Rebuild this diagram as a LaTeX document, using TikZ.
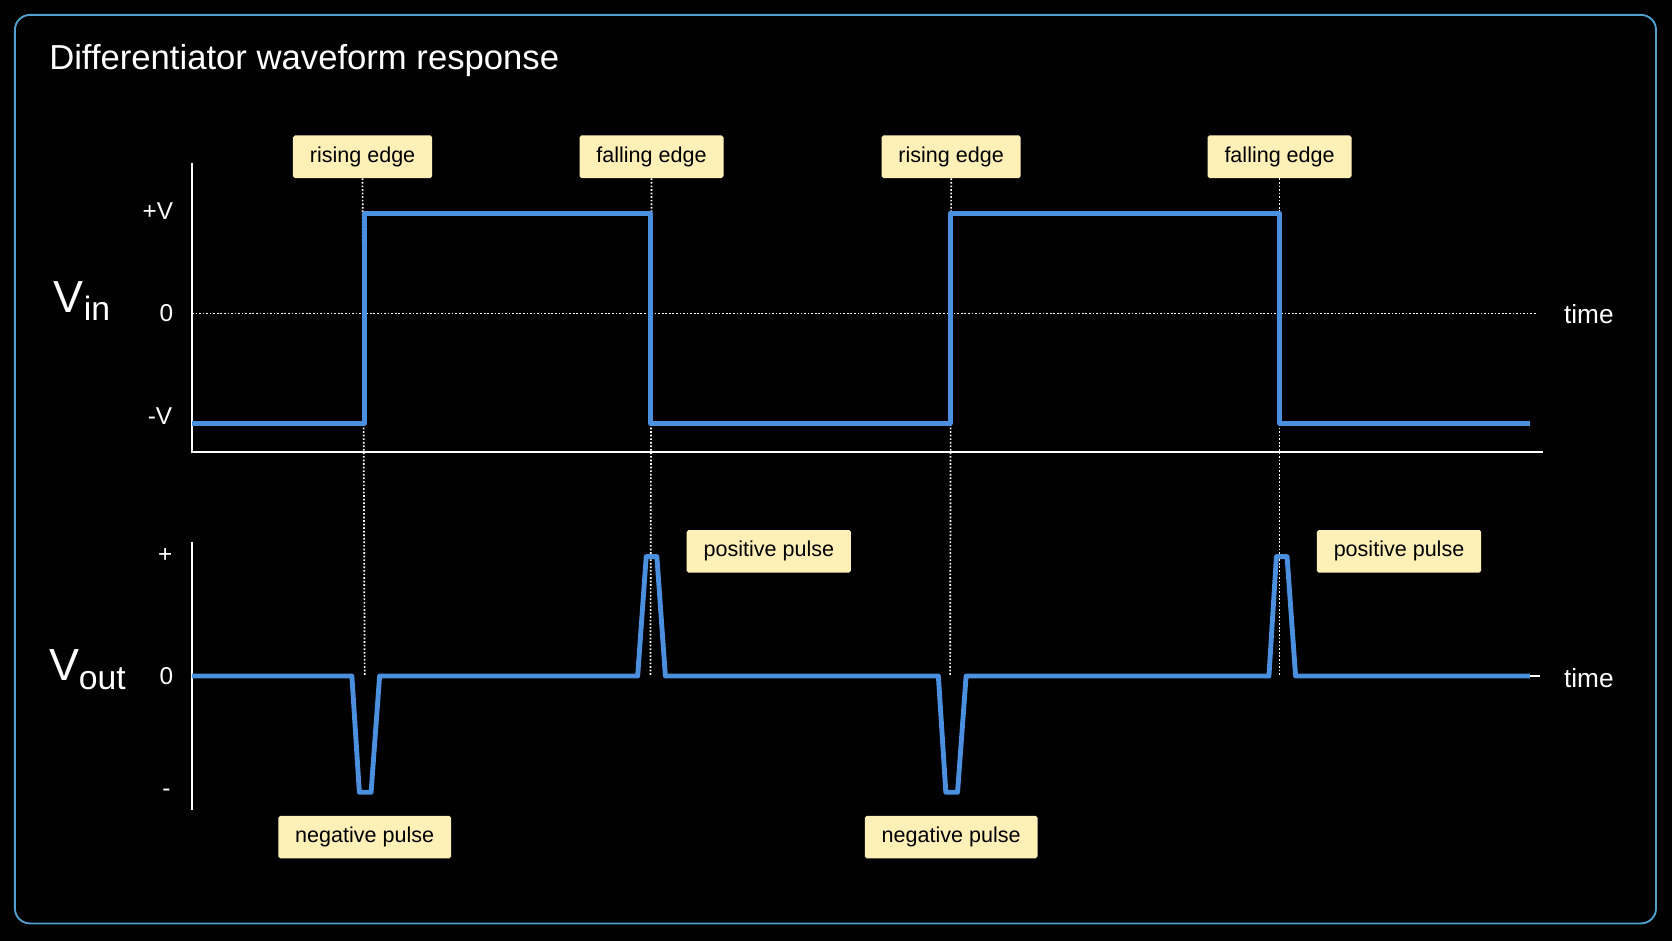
\documentclass[tikz,border=0pt]{standalone}
\usepackage{fontspec}
\setmainfont{Liberation Sans}
\usetikzlibrary{positioning}
\definecolor{wave}{RGB}{74,144,222}
\definecolor{frame}{RGB}{80,160,205}
\definecolor{tag}{RGB}{255,240,184}

\begin{document}
\begin{tikzpicture}[x=0.02cm, y=-0.02cm,
    tagbox/.style={fill=tag, rounded corners=1pt, inner xsep=9pt, inner ysep=6pt, font=\fontsize{11.5}{13}\selectfont, text=black},
    axis/.style={white, line width=1.2pt},
    guide/.style={white, densely dotted, line width=0.9pt},
    sig/.style={wave, line width=2.6pt, line join=round},
    lab/.style={text=white, font=\fontsize{13}{15}\selectfont}]

    % background and frame
    \fill[black] (0,0) rectangle (1568,882);
    \draw[frame, line width=1pt, rounded corners=8pt] (14,14) rectangle (1553,866);
    \node[text=white, anchor=west, font=\fontsize{18.5}{22}\selectfont] (title) at (40,57) {Differentiator waveform response};

    % edge labels
    \node[tagbox] (r1) at (340,147) {rising edge};
    \node[tagbox] (f1) at (611,147) {falling edge};
    \node[tagbox] (r2) at (892,147) {rising edge};
    \node[tagbox] (f2) at (1200,147) {falling edge};

    % guide lines down to the output
    \foreach \n/\x in {r1/342, f1/610, r2/891, f2/1200}
        \draw[guide] (\n.south) -- (\x,634);

    % input axes
    \coordinate (vi0) at (180,153);
    \coordinate (vi1) at (180,424);
    \coordinate (vi2) at (1447,424);
    \draw[axis] (vi0) -- (vi1) -- (vi2);
    \coordinate (z0) at (180,294);
    \coordinate (z1) at (1440,294);
    \draw[guide] (z0) -- (z1);
    \node[lab, font=\fontsize{14}{16}\selectfont] (t1) at (1490,295) {time};
    \node[lab] (pv) at (148,198) {+V};
    \node[lab] (zv) at (156,294) {0};
    \node[lab] (mv) at (150,390) {-V};
    \node[text=white, font=\fontsize{24}{28}\selectfont] (vin) at (77,282) {V\raisebox{-0.35ex}{\fontsize{18}{20}\selectfont in}};

    % input square wave
    \draw[sig] (180,397) -- (342,397) -- (342,200) -- (610,200) -- (610,397)
        -- (891,397) -- (891,200) -- (1200,200) -- (1200,397) -- (1435,397);

    % output axes
    \coordinate (vo0) at (180,508);
    \coordinate (vo1) at (180,760);
    \draw[axis] (vo0) -- (vo1);
    \node[lab, font=\fontsize{14}{16}\selectfont] (t2) at (1490,636) {time};
    \node[lab] (po) at (155,521) {+};
    \node[lab] (zo) at (156,634) {0};
    \node[lab] (mo) at (156,743) {-};
    \node[text=white, font=\fontsize{24}{28}\selectfont] (vout) at (82,628) {V\raisebox{-0.35ex}{\fontsize{18}{20}\selectfont out}};

    % output pulses
    \draw[sig] (180,634) -- (330,634) -- (337,743) -- (348,743) -- (356,634)
        -- (598,634) -- (606,522) -- (616,522) -- (624,634)
        -- (880,634) -- (887,743) -- (898,743) -- (906,634)
        -- (1190,634) -- (1197,522) -- (1207,522) -- (1215,634) -- (1435,634);
    \draw[white, line width=1pt] (1435,634) -- (1444,634);

    % pulse labels
    \node[tagbox] (p1) at (721,517) {positive pulse};
    \node[tagbox] (p2) at (1312,517) {positive pulse};
    \node[tagbox] (n1) at (342,785) {negative pulse};
    \node[tagbox] (n2) at (892,785) {negative pulse};
\end{tikzpicture}
\end{document}
